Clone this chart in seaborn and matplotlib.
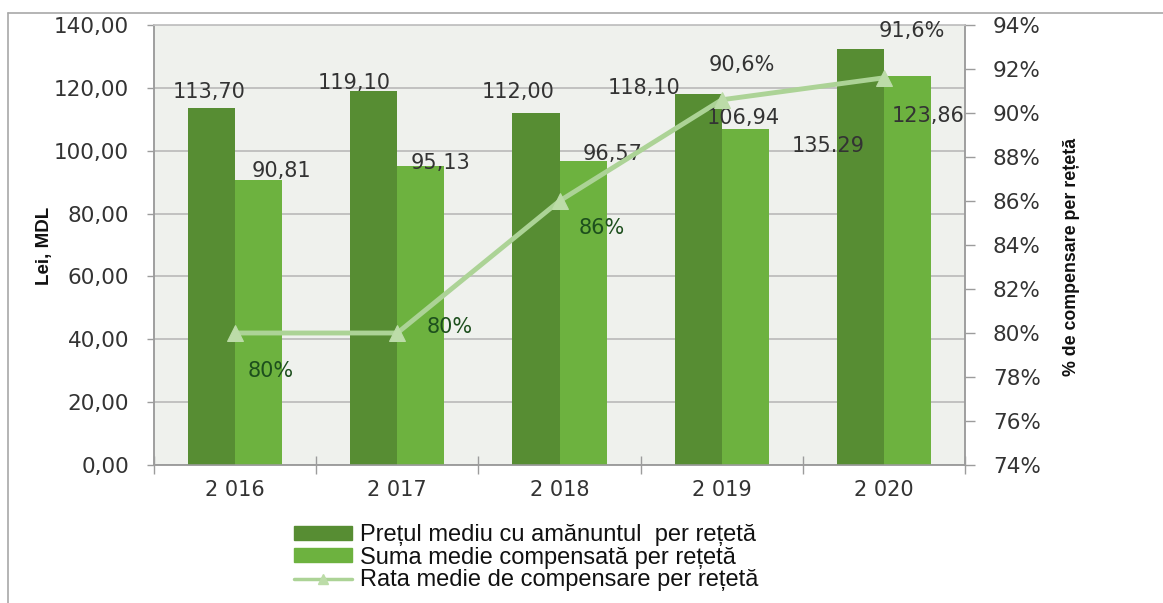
import numpy as np
import pandas as pd
import matplotlib
matplotlib.use("Agg")
import matplotlib.pyplot as plt
import seaborn as sns
from matplotlib.ticker import FuncFormatter, FixedLocator, MultipleLocator
from matplotlib.patches import Patch
from matplotlib.lines import Line2D

# ---------------- data ----------------
years = ["2 016", "2 017", "2 018", "2 019", "2 020"]
price_avg = [113.70, 119.10, 112.00, 118.10, 132.40]          # bar heights
price_labels = ["113,70", "119,10", "112,00", "118,10", "135.29"]
comp_avg = [90.81, 95.13, 96.57, 106.94, 123.86]
comp_labels = ["90,81", "95,13", "96,57", "106,94", "123,86"]
rate = [80.0, 80.0, 86.0, 90.6, 91.6]
rate_labels = ["80%", "80%", "86%", "90,6%", "91,6%"]

s1 = "Prețul mediu cu amănuntul  per rețetă"
s2 = "Suma medie compensată per rețetă"
s3 = "Rata medie de compensare per rețetă"

# ---------------- style ----------------
dark = "#578d33"
light = "#6db23f"
line_c = "#acd396"
marker_c = "#bcdca8"
grid_c = "#b9b9b9"
spine_c = "#9c9c9c"
txt_c = "#333333"

sns.set_theme(style="white")
plt.rcParams["font.family"] = ["DejaVu Sans"]

fig = plt.figure(figsize=(11.63, 6.03), dpi=100)
ax = fig.add_axes([154 / 1163, 1 - 465 / 603, (965 - 154) / 1163, (465 - 25) / 603])
ax.set_facecolor("#eff1ed")

df = pd.DataFrame({
    "An": years * 2,
    "Serie": [s1] * len(years) + [s2] * len(years),
    "Valoare": price_avg + comp_avg,
})
sns.barplot(data=df, x="An", y="Valoare", hue="Serie", palette=[dark, light],
            width=0.58, saturation=1, ax=ax, legend=False, zorder=3,
            linewidth=0, edgecolor="none")

ax.set_ylim(0, 140)
ax.set_xlim(-0.5, len(years) - 0.5)
ax.yaxis.set_major_locator(MultipleLocator(20))
ax.yaxis.set_major_formatter(FuncFormatter(lambda v, p: f"{v:.2f}".replace(".", ",")))
ax.set_axisbelow(True)
ax.grid(axis="y", color=grid_c, lw=1.2, zorder=0)
ax.grid(axis="x", visible=False)
ax.set_xlabel("")
ax.set_ylabel("")

ax.tick_params(axis="y", which="major", left=True, length=5, width=1, color=spine_c,
               pad=13, labelsize=15.5, labelcolor=txt_c)
ax.tick_params(axis="x", which="major", length=0, pad=11, labelsize=15, labelcolor=txt_c)
ax.xaxis.set_minor_locator(FixedLocator(np.arange(-0.5, len(years), 1.0)))
ax.tick_params(axis="x", which="minor", bottom=True, direction="inout", length=13,
               width=1, color=spine_c)
for s in ax.spines.values():
    s.set_color(spine_c)
    s.set_linewidth(1.1)
ax.spines["top"].set_color("#c4c4c4")

# bar value labels
dark_off = [(-2, 16), (-20, 8), (-18, 21), (-54, 6), (-32, -97)]
light_off = [(23, 9), (20, 3), (30, 7), (-2, 11), (21, -40)]
patches = ax.patches
n = len(years)
for i in range(n):
    p = patches[i]
    ax.annotate(price_labels[i], xy=(p.get_x() + p.get_width() / 2, p.get_height()),
                xytext=(dark_off[i][0] * 0.72, dark_off[i][1] * 0.72),
                textcoords="offset points", ha="center", va="center",
                fontsize=15, color=txt_c, zorder=6)
    q = patches[n + i]
    ax.annotate(comp_labels[i], xy=(q.get_x() + q.get_width() / 2, q.get_height()),
                xytext=(light_off[i][0] * 0.72, light_off[i][1] * 0.72),
                textcoords="offset points", ha="center", va="center",
                fontsize=15, color=txt_c, zorder=6)

# secondary axis with the rate line
ax2 = ax.twinx()
ax2.patch.set_visible(False)
sns.lineplot(x=np.arange(n), y=rate, ax=ax2, color=line_c, lw=3.5, marker="^",
             markersize=12, markerfacecolor=marker_c, markeredgecolor=marker_c,
             legend=False, zorder=5)
ax.set_xlim(-0.5, n - 0.5)
ax2.set_ylim(74, 94)
ax2.yaxis.set_major_locator(MultipleLocator(2))
ax2.yaxis.set_major_formatter(FuncFormatter(lambda v, p: f"{v:.0f}%"))
ax2.tick_params(axis="y", right=True, length=7, width=1, color=spine_c, pad=13,
                labelsize=15.5, labelcolor=txt_c)
ax2.grid(False)
ax2.set_ylabel("")
for s in ax2.spines.values():
    s.set_color(spine_c)
    s.set_linewidth(1.1)
ax2.spines["top"].set_color("#c4c4c4")

rate_off = [(36, -38), (52, 6), (42, -27), (20, 35), (28, 47)]
rate_cols = ["#1d4f1d", "#1d4f1d", "#1d4f1d", "#333333", "#333333"]
for i in range(n):
    ax2.annotate(rate_labels[i], xy=(i, rate[i]),
                 xytext=(rate_off[i][0] * 0.72, rate_off[i][1] * 0.72),
                 textcoords="offset points", ha="center", va="center",
                 fontsize=15, color=rate_cols[i], zorder=7)

# axis titles
fig.text(44 / 1163, 1 - 246 / 603, "Lei, MDL", rotation=90, ha="center", va="center",
         fontsize=13.5, fontweight="bold", color="#111111",
         family=["Liberation Sans", "DejaVu Sans"])
fig.text(1071 / 1163, 1 - 257 / 603, "% de compensare per rețetă", rotation=90,
         ha="center", va="center", fontsize=12.8, fontweight="bold", color="#111111",
         family=["Liberation Sans", "DejaVu Sans"])

# legend
handles = [
    Patch(facecolor=dark, edgecolor=dark),
    Patch(facecolor=light, edgecolor=light),
    Line2D([0], [0], color=line_c, lw=2.5, marker="^", markersize=7,
           markerfacecolor=marker_c, markeredgecolor=marker_c),
]
leg = fig.legend(handles, [s1, s2, s3], loc="upper left",
                 bbox_to_anchor=(294 / 1163, 1 - 524 / 603), frameon=False,
                 borderpad=0, borderaxespad=0, handlelength=2.45, handleheight=0.55,
                 handletextpad=0.35, labelspacing=0.03,
                 prop={"family": ["Liberation Sans", "DejaVu Sans"], "size": 17})
for t in leg.get_texts():
    t.set_color("#111111")

# outer frame lines
fig.add_artist(Line2D([8 / 1163, 1], [1 - 13 / 603, 1 - 13 / 603], color="#a8a8a8", lw=1.2))
fig.add_artist(Line2D([8 / 1163, 8 / 1163], [0, 1 - 13 / 603], color="#a8a8a8", lw=1.2))

fig.savefig("out.png", dpi=100)
